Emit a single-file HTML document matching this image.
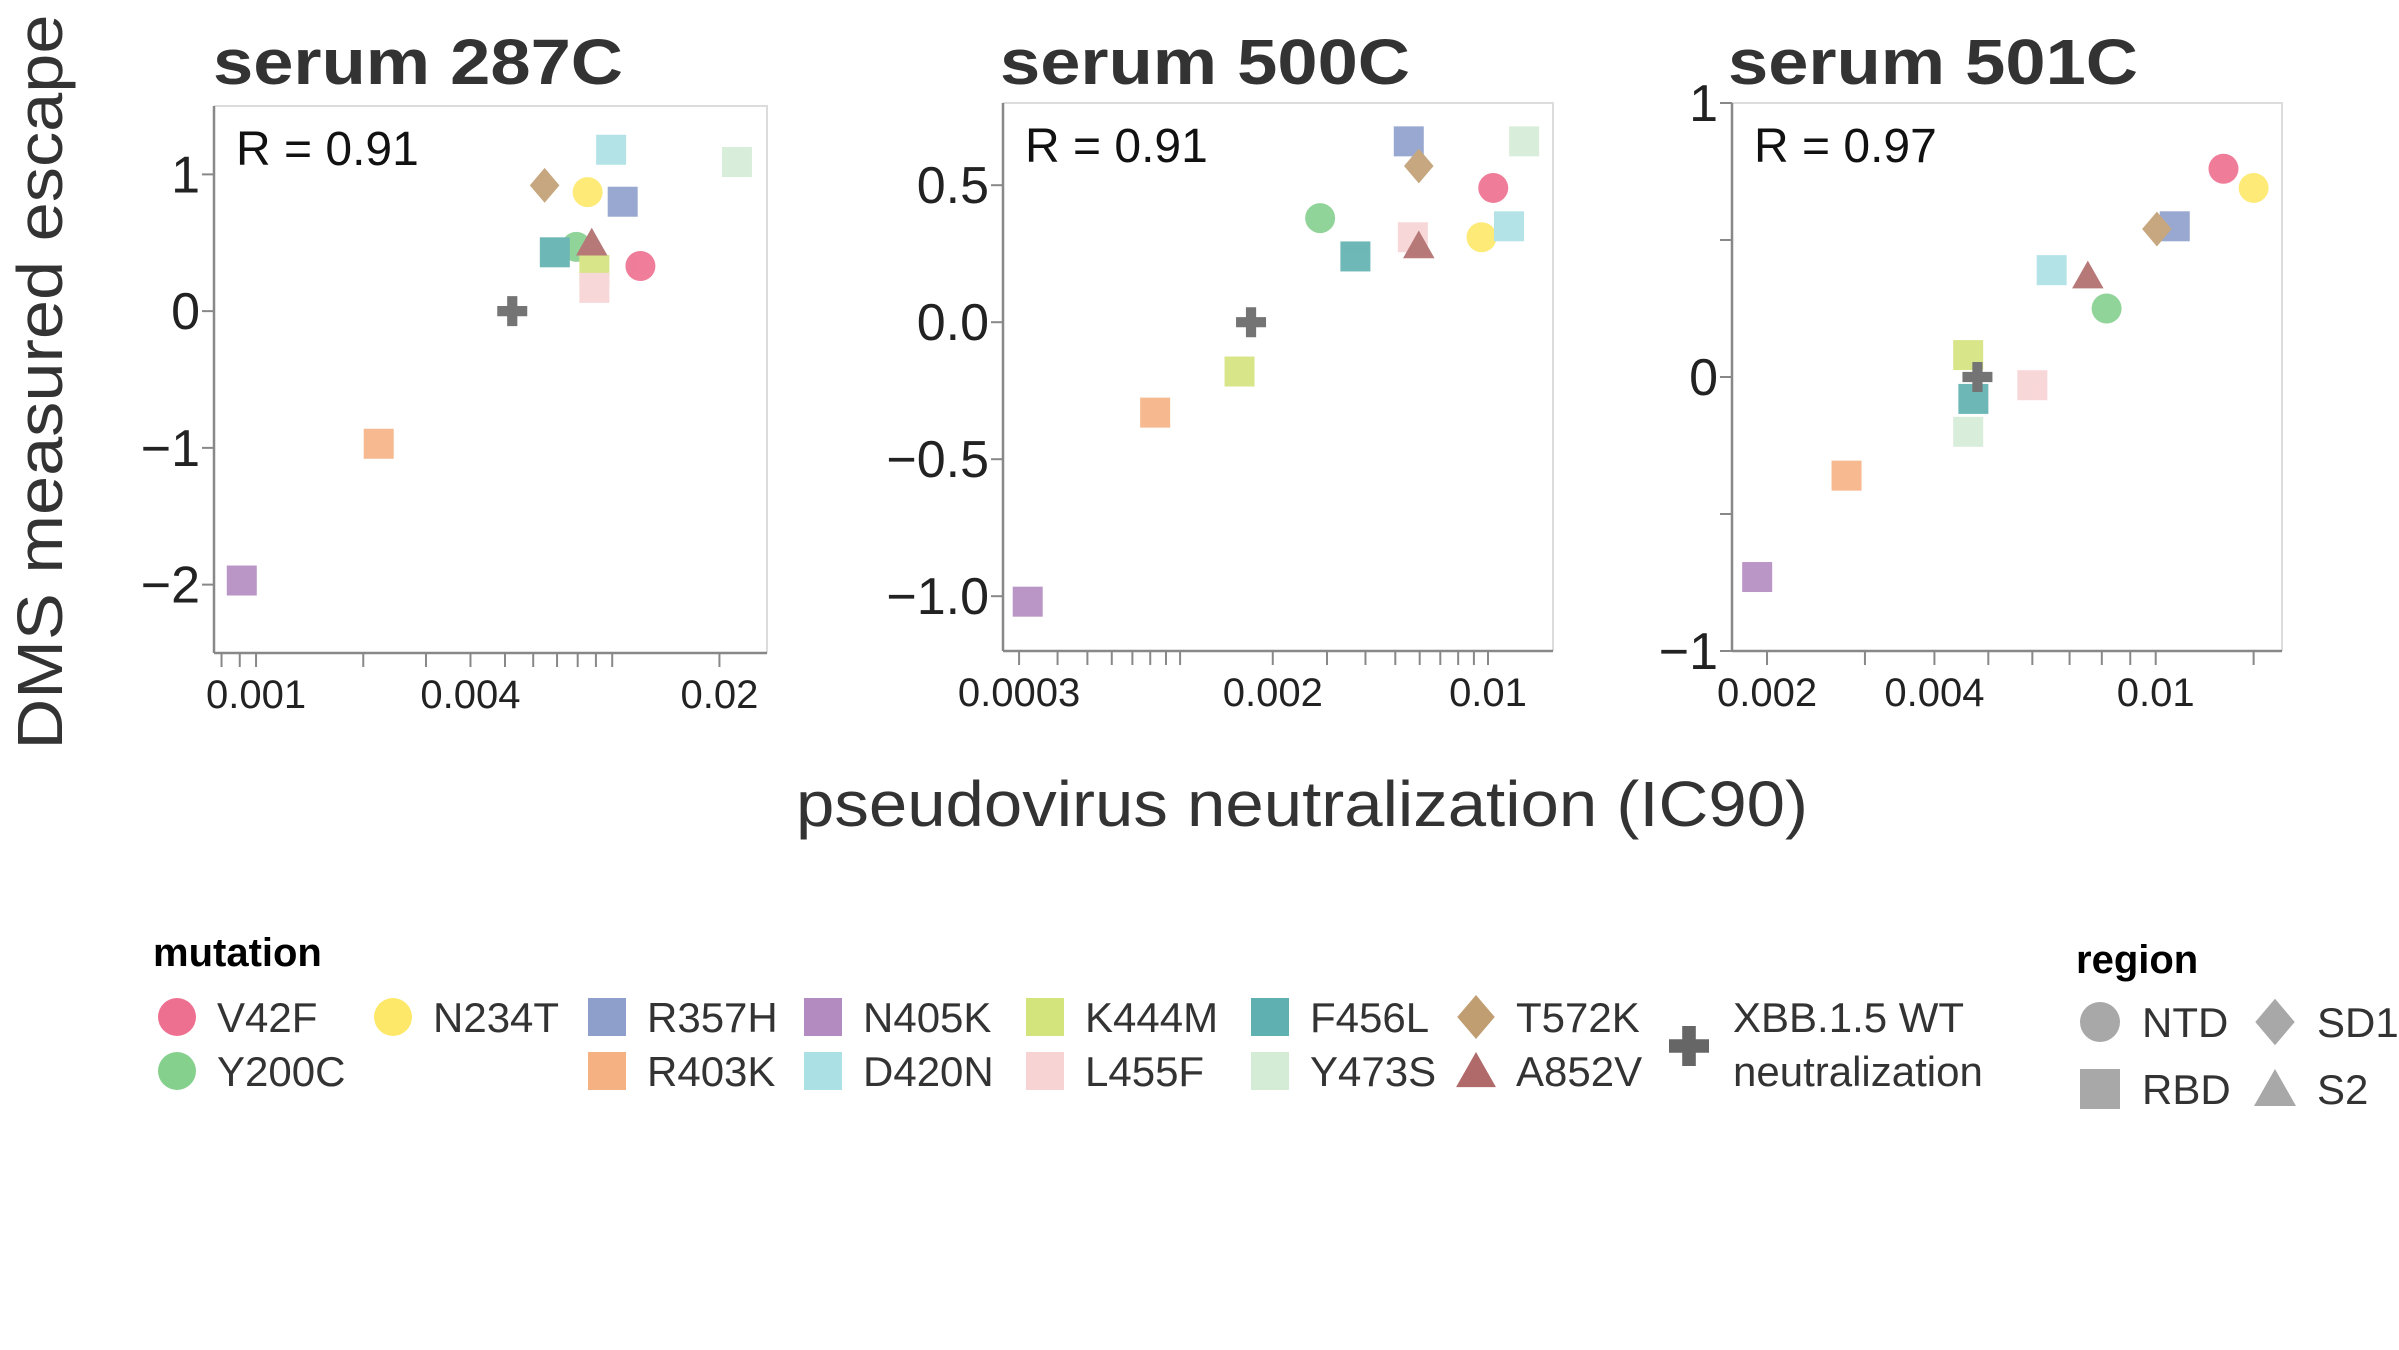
<!DOCTYPE html>
<html><head><meta charset="utf-8"><style>
html,body{margin:0;padding:0;background:#fff;}
svg{display:block;font-family:"Liberation Sans",Arial,sans-serif;}
</style></head><body>
<svg id="chart" width="2399" height="1350" viewBox="0 0 2399 1350" xmlns="http://www.w3.org/2000/svg">
<rect x="0" y="0" width="2399" height="1350" fill="#fff"/>
<text transform="translate(62,382) rotate(-90)" text-anchor="middle" font-size="64" fill="#333" textLength="735" lengthAdjust="spacingAndGlyphs">DMS measured escape</text>
<text x="1302" y="826" text-anchor="middle" font-size="64" fill="#333" textLength="1012" lengthAdjust="spacingAndGlyphs">pseudovirus neutralization (IC90)</text>
<g id="panels"></g>
<g id="legend"></g>
</svg>
<script>
const mutations = ["V42F","Y200C","N234T","R357H","R403K","N405K","D420N","K444M","L455F","F456L","Y473S","T572K","A852V","XBB.1.5 WT"];
const colors = ["#ee7090","#86d08e","#fde869","#8f9fcc","#f6b183","#b38bc1","#abe0e5","#d4e47d","#f8d3d4","#5fb0b0","#d4ecd6","#c09e72","#b06a6a","#666666"];
const shapes = ["circle","circle","circle","square","square","square","square","square","square","square","square","diamond","triangle","plus"];
const x287 = [0.0120,0.00793,0.00853,0.0107,0.00221,0.000912,0.00993,0.00891,0.00891,0.0069,0.0224,0.00646,0.00876,0.00524];
const y287 = [0.33,0.47,0.87,0.80,-0.97,-1.97,1.18,0.30,0.17,0.43,1.09,0.92,0.50,0];
const x500 = [0.0104,0.00285,0.00953,0.00553,0.00083,0.00032,0.0117,0.00156,0.0057,0.00371,0.0131,0.00596,0.00596,0.00170];
const y500 = [0.49,0.38,0.31,0.66,-0.33,-1.02,0.35,-0.18,0.31,0.24,0.66,0.57,0.28,0];
const x501 = [0.01324,0.00816,0.0150,0.01082,0.00278,0.00192,0.00650,0.00460,0.00600,0.00470,0.00460,0.01005,0.00755,0.00478];
const y501 = [0.76,0.25,0.69,0.55,-0.36,-0.73,0.39,0.08,-0.03,-0.08,-0.20,0.54,0.37,0];
const rValues = ["0.91","0.91","0.97"];
const titles = ["serum 287C","serum 500C","serum 501C"];
const xTicks287 = [0.0008,0.0009,0.001,0.002,0.003,0.004,0.005,0.006,0.007,0.008,0.009,0.01,0.02];
const xLabels287 = ["0.001","0.004","0.02"];
const xTicks500 = [0.0003,0.0004,0.0005,0.0006,0.0007,0.0008,0.0009,0.001,0.002,0.003,0.004,0.005,0.006,0.007,0.008,0.009,0.01];
const xLabels500 = ["0.0003","0.002","0.01"];
const xTicks501 = [0.002,0.003,0.004,0.005,0.006,0.007,0.008,0.009,0.01,0.015];
const xLabels501 = ["0.002","0.004","0.01"];
const yTicks287 = [1,0,-1,-2];
const yLabels287 = ["1","0","\u22121","\u22122"];
const yTicks500 = [0.5,0,-0.5,-1];
const yLabels500 = ["0.5","0.0","\u22120.5","\u22121.0"];
const yTicks501 = [1,0.5,0,-0.5,-1];
const yLabels501 = ["1","","0","","\u22121"];

const NS = "http://www.w3.org/2000/svg";
function mk(tag, attrs, parent){const e=document.createElementNS(NS,tag);for(const k in attrs)e.setAttribute(k,attrs[k]);parent.appendChild(e);return e;}

const panels = [
 {xs:x287,ys:y287,xt:xTicks287,xl:xLabels287,yt:yTicks287,yl:yLabels287,left:214,right:767,top:106,bottom:653,xmin:0.000762,xmax:0.0272,ymin:-2.5,ymax:1.5,tx:213,id:"287c"},
 {xs:x500,ys:y500,xt:xTicks500,xl:xLabels500,yt:yTicks500,yl:yLabels500,left:1003,right:1553,top:103,bottom:651,xmin:0.000266,xmax:0.01626,ymin:-1.2,ymax:0.8,tx:1000,id:"500c"},
 {xs:x501,ys:y501,xt:xTicks501,xl:xLabels501,yt:yTicks501,yl:yLabels501,left:1732,right:2282,top:103,bottom:651,xmin:0.00173,xmax:0.01687,ymin:-1,ymax:1,tx:1728,id:"501c"}
];

function drawMarker(g, shape, cx, cy, color, s, name){
  let e;
  if(shape==="circle") e=mk("circle",{cx:cx,cy:cy,r:s/2,fill:color},g);
  else if(shape==="square") e=mk("rect",{x:cx-s/2,y:cy-s/2,width:s,height:s,fill:color},g);
  else if(shape==="diamond"){const h=s*0.58;e=mk("polygon",{points:`${cx},${cy-h} ${cx+h*0.85},${cy} ${cx},${cy+h} ${cx-h*0.85},${cy}`,fill:color},g);}
  else if(shape==="triangle"){const h=s*0.5;e=mk("polygon",{points:`${cx},${cy-h} ${cx+h*1.05},${cy+h*0.85} ${cx-h*1.05},${cy+h*0.85}`,fill:color},g);}
  else {const a=s/2,w=s*0.17;e=mk("path",{d:`M${cx-w},${cy-a}H${cx+w}V${cy-w}H${cx+a}V${cy+w}H${cx+w}V${cy+a}H${cx-w}V${cy+w}H${cx-a}V${cy-w}H${cx-w}Z`,fill:color},g);}
  
  
  return e;
}

const root = document.getElementById("panels");
panels.forEach((p,pi)=>{
  const g = mk("g",{},root);
  
  
  const lx0=Math.log10(p.xmin), lx1=Math.log10(p.xmax);
  const X = v => p.left + (Math.log10(v)-lx0)/(lx1-lx0)*(p.right-p.left);
  const Y = v => p.bottom - (v-p.ymin)/(p.ymax-p.ymin)*(p.bottom-p.top);
  const t = mk("text",{x:p.tx,y:84,"font-size":64,"font-weight":"bold",fill:"#333",textLength:410,lengthAdjust:"spacingAndGlyphs"},g);
  t.textContent = titles[pi];
  
  
  const fr = mk("path",{d:`M${p.left},${p.top}H${p.right}V${p.bottom}`,fill:"none",stroke:"#dcdcdc","stroke-width":2},g);
  
  
  const ya = mk("line",{x1:p.left,y1:p.top,x2:p.left,y2:p.bottom,stroke:"#888","stroke-width":2.5},g);
  
  
  const xa = mk("line",{x1:p.left,y1:p.bottom,x2:p.right,y2:p.bottom,stroke:"#888","stroke-width":2.5},g);
  
  
  p.xt.forEach(v=>{
    const x=X(v);
    const tk=mk("line",{x1:x,y1:p.bottom,x2:x,y2:p.bottom+14,stroke:"#888","stroke-width":2},g);
    
    
  });
  p.xl.forEach(l=>{
    const tl=mk("text",{x:X(parseFloat(l)),y:p.bottom+55,"text-anchor":"middle","font-size":40,fill:"#222"},g);
    tl.textContent=l;
    
    
  });
  p.yt.forEach((v,i)=>{
    const y=Y(v);
    const tk=mk("line",{x1:p.left-12,y1:y,x2:p.left,y2:y,stroke:"#888","stroke-width":2},g);
    
    
    if(p.yl[i]){
      const tl=mk("text",{x:p.left-14,y:y+18,"text-anchor":"end","font-size":52,fill:"#222"},g);
      tl.textContent=p.yl[i];
      
      
    }
  });
  const rt=mk("text",{x:p.left+22,y:p.top+59,"font-size":48,fill:"#111"},g);
  rt.textContent="R = "+rValues[pi];
  
  
  const mg=mk("g",{opacity:0.9},g);
  mutations.forEach((m,i)=>{
    drawMarker(mg, shapes[i], X(p.xs[i]), Y(p.ys[i]), colors[i], 30, 'point-'+m.toLowerCase().replace(/[^a-z0-9]+/g,'-'));
  });
});

const lg = document.getElementById("legend");
const lt = mk("text",{x:153,y:966,"font-size":40,"font-weight":"bold",fill:"#000"},lg);
lt.textContent="mutation";


const legendCols = [[0,1],[2],[3,4],[5,6],[7,8],[9,10],[11,12]];
const colX = [177,393,607,823,1045,1270,1476];
const rowY = [1017,1071];
legendCols.forEach((col,ci)=>{
  col.forEach((idx,ri)=>{
    const eg=mk("g",{},lg);
    
    
    drawMarker(eg, shapes[idx], colX[ci], rowY[ri], colors[idx], 38, 'legend-marker');
    const tx=mk("text",{x:colX[ci]+40,y:rowY[ri]+15,"font-size":42,fill:"#333"},eg);
    tx.textContent=mutations[idx];
    
    
  });
});
const wg=mk("g",{},lg);


drawMarker(wg,"plus",1689,1046,"#666",40,'legend-marker');
const w1=mk("text",{x:1733,y:1032,"font-size":42,fill:"#333"},wg); w1.textContent="XBB.1.5 WT";


const w2=mk("text",{x:1733,y:1086,"font-size":42,fill:"#333"},wg); w2.textContent="neutralization";



const rtt=mk("text",{x:2076,y:973,"font-size":40,"font-weight":"bold",fill:"#000"},lg);
rtt.textContent="region";


const regions=[["NTD","circle",2100,1022],["SD1","diamond",2275,1022],["RBD","square",2100,1089],["S2","triangle",2275,1089]];
regions.forEach(r=>{
  const rg=mk("g",{},lg);
  
  
  drawMarker(rg,r[1],r[2],r[3],"#a8a8a8",40,'region-marker');
  const tx=mk("text",{x:r[2]+42,y:r[3]+15,"font-size":42,fill:"#333"},rg);
  tx.textContent=r[0];
  
  
});
</script>
</body></html>
